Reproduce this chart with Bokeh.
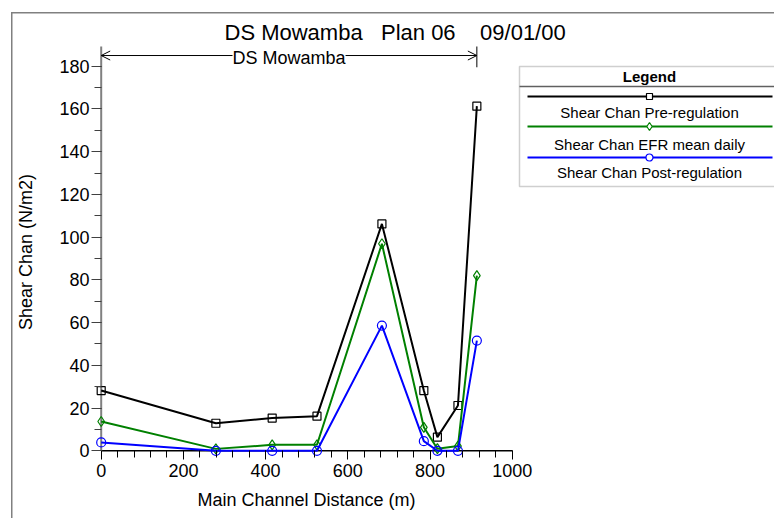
from bokeh.plotting import figure
from bokeh.models import (Range1d, SingleIntervalTicker, Label, Arrow, OpenHead,
                          BoxAnnotation, ColumnDataSource, Title)
from bokeh.embed import file_html
from bokeh.resources import INLINE

# ---------------- data ----------------
distance = [0, 279, 416, 525, 683, 785, 818, 868, 914]
pre_regulation = [28.2, 12.9, 15.3, 16.2, 106.2, 28.2, 6.4, 21.2, 161.3]
efr_mean_daily = [13.7, 0.9, 2.8, 2.8, 96.9, 11.0, 1.0, 2.2, 82.0]
post_regulation = [3.9, 0.0, 0.0, 0.0, 58.6, 4.5, 0.0, 0.0, 51.6]
series_names = ["Shear Chan Pre-regulation", "Shear Chan EFR mean daily",
                "Shear Chan Post-regulation"]
title_text = "DS Mowamba\u00a0\u00a0 Plan 06\u00a0\u00a0\u00a0 09/01/00"
reach_name = "DS Mowamba"
reach_start, reach_end = 0, 914
x_label = "Main Channel Distance (m)"
y_label = "Shear Chan (N/m2)"
x_axis_max = 1000
y_axis_max = 180

# ---------------- layout (page pixels) ----------------
W, H = 774, 518
FL, FR, FT, FB = 94, 774, 46, 457          # frame edges
X0, X1000 = 100.7, 511.7                   # pixel of x=0 and x=1000
Y0, Y180 = 450.3, 65.7                     # pixel of y=0 and y=180
kx = (X1000 - X0) / 1000.0
ky = (Y0 - Y180) / 180.0
x_start, x_end = (FL - X0) / kx, (FR - X0) / kx
y_start, y_end = -(FB - Y0) / ky, (Y0 - FT) / ky
dx_in = int(round(X0 - FL))   # distance from frame edge to the x=0 line
dy_in = int(round(FB - Y0))   # distance from frame edge to the y=0 line

FONT = "Liberation Sans"

p = figure(width=W, height=H, output_backend="svg", toolbar_location=None,
           title=title_text,
           x_range=Range1d(x_start, x_end), y_range=Range1d(y_start, y_end),
           min_border_left=FL, min_border_right=W - FR,
           min_border_top=FT, min_border_bottom=H - FB)
p.extra_x_ranges["px"] = Range1d(FL, FR)
p.extra_y_ranges["px"] = Range1d(FB, FT)
p.outline_line_color = None
p.grid.visible = False
p.background_fill_color = None
p.border_fill_color = None
p.styles = {
    "background": ("linear-gradient(#808080,#808080) 11px 12px / 1.5px 100% no-repeat, "
                   "linear-gradient(#808080,#808080) 11px 12px / 100% 1.5px no-repeat, "
                   "white")
}

# ---------------- title ----------------
p.title.align = "left"
p.title.offset = 130
p.title.standoff = 4
p.title.text_font = FONT
p.title.text_font_size = "22px"
p.title.text_font_style = "normal"
p.title.text_color = "black"

# ---------------- axes ----------------
xa = p.xaxis[0]
xa.ticker = SingleIntervalTicker(interval=200, num_minor_ticks=5)
xa.bounds = (0, x_axis_max)
xa.axis_line_color = None
xa.major_tick_line_color = "black"
xa.minor_tick_line_color = "black"
xa.major_tick_in = dy_in
xa.major_tick_out = 2
xa.minor_tick_in = dy_in
xa.minor_tick_out = 0
xa.major_label_standoff = 4
xa.major_label_text_font = FONT
xa.major_label_text_font_size = "18px"
xa.major_label_text_color = "black"

ya = p.yaxis[0]
ya.ticker = SingleIntervalTicker(interval=20, num_minor_ticks=2)
ya.bounds = (0, y_axis_max)
ya.axis_line_color = None
ya.major_tick_line_color = "#404040"
ya.minor_tick_line_color = "#404040"
ya.major_tick_in = dx_in
ya.major_tick_out = 3
ya.minor_tick_in = dx_in
ya.minor_tick_out = 0
ya.major_label_standoff = 2
ya.major_label_text_font = FONT
ya.major_label_text_font_size = "18px"
ya.major_label_text_color = "black"
ya.axis_label = y_label
ya.axis_label_text_font = FONT
ya.axis_label_text_font_size = "18px"
ya.axis_label_text_font_style = "normal"
ya.axis_label_text_color = "black"
ya.axis_label_standoff = 20

# x-axis title, centred under the 0..1000 axis as in the original
xlab_width = 218
p.add_layout(Title(text=x_label, align="left",
                   offset=int(round(X0 + kx * x_axis_max / 2 - xlab_width / 2 - FL)),
                   standoff=17, text_font=FONT, text_font_size="18px",
                   text_font_style="normal", text_color="black"), "below")

# axis rules drawn at the zero lines
p.segment(x0=[0], y0=[0], x1=[x_axis_max], y1=[0], line_color="black", line_width=1.5)
p.segment(x0=[0], y0=[0], x1=[0], y1=[189.5], line_color="#808080", line_width=2)

# ---------------- data series ----------------
src = ColumnDataSource(dict(distance=distance, pre=pre_regulation,
                            efr=efr_mean_daily, post=post_regulation))
styles = [("pre", "black", "square", 8),
          ("efr", "#008000", "diamond", 10),
          ("post", "#0000ff", "circle", 9)]
for col, color, marker, size in styles:
    p.line("distance", col, source=src, line_color=color, line_width=2)
    p.scatter("distance", col, source=src, marker=marker, size=size,
              line_color=color, fill_color=None, line_width=1.2)

# ---------------- reach bracket ----------------
mid = (reach_start + reach_end) / 2.0
bracket_y = 185
for xe in (reach_start, reach_end):
    p.add_layout(Arrow(x_start=mid, y_start=bracket_y, x_end=xe, y_end=bracket_y,
                       line_color="black", line_width=1,
                       end=OpenHead(size=9, line_color="black", line_width=1)))
p.segment(x0=[reach_end], y0=[179.5], x1=[reach_end], y1=[189.5],
          line_color="black", line_width=1)
p.add_layout(Label(x=mid, y=bracket_y, text=reach_name, text_align="center",
                   text_baseline="middle", text_font=FONT, text_font_size="18px",
                   text_color="black", background_fill_color="white",
                   y_offset=-2))

# ---------------- legend ----------------
LL, LT, LB = 519, 66, 186
LX = 649
p.add_layout(BoxAnnotation(left=LL, right=900, top=LT, bottom=LB,
                           x_range_name="px", y_range_name="px",
                           fill_alpha=0, line_color="#606060", line_width=1.5))
p.segment(x0=[LL], y0=[86], x1=[900], y1=[86], x_range_name="px", y_range_name="px",
          line_color="#606060", line_width=1.5)
p.add_layout(Label(x=LX, y=76, x_range_name="px", y_range_name="px", text="Legend",
                   text_align="center", text_baseline="middle", text_font=FONT,
                   text_font_size="15px", text_font_style="bold", text_color="black"))
line_ys = [96, 126, 157]
text_ys = [112, 143.5, 172]
for (col, color, marker, size), name, ly, ty in zip(styles, series_names, line_ys, text_ys):
    p.segment(x0=[527], y0=[ly], x1=[772], y1=[ly], x_range_name="px", y_range_name="px",
              line_color=color, line_width=2)
    p.scatter(x=[LX], y=[ly], x_range_name="px", y_range_name="px", marker=marker,
              size=size - 2, line_color=color, fill_color="white", line_width=1.2)
    p.add_layout(Label(x=LX, y=ty, x_range_name="px", y_range_name="px", text=name,
                       text_align="center", text_baseline="middle", text_font=FONT,
                       text_font_size="15px", text_color="black"))

open("out.html", "w").write(file_html(p, INLINE))
